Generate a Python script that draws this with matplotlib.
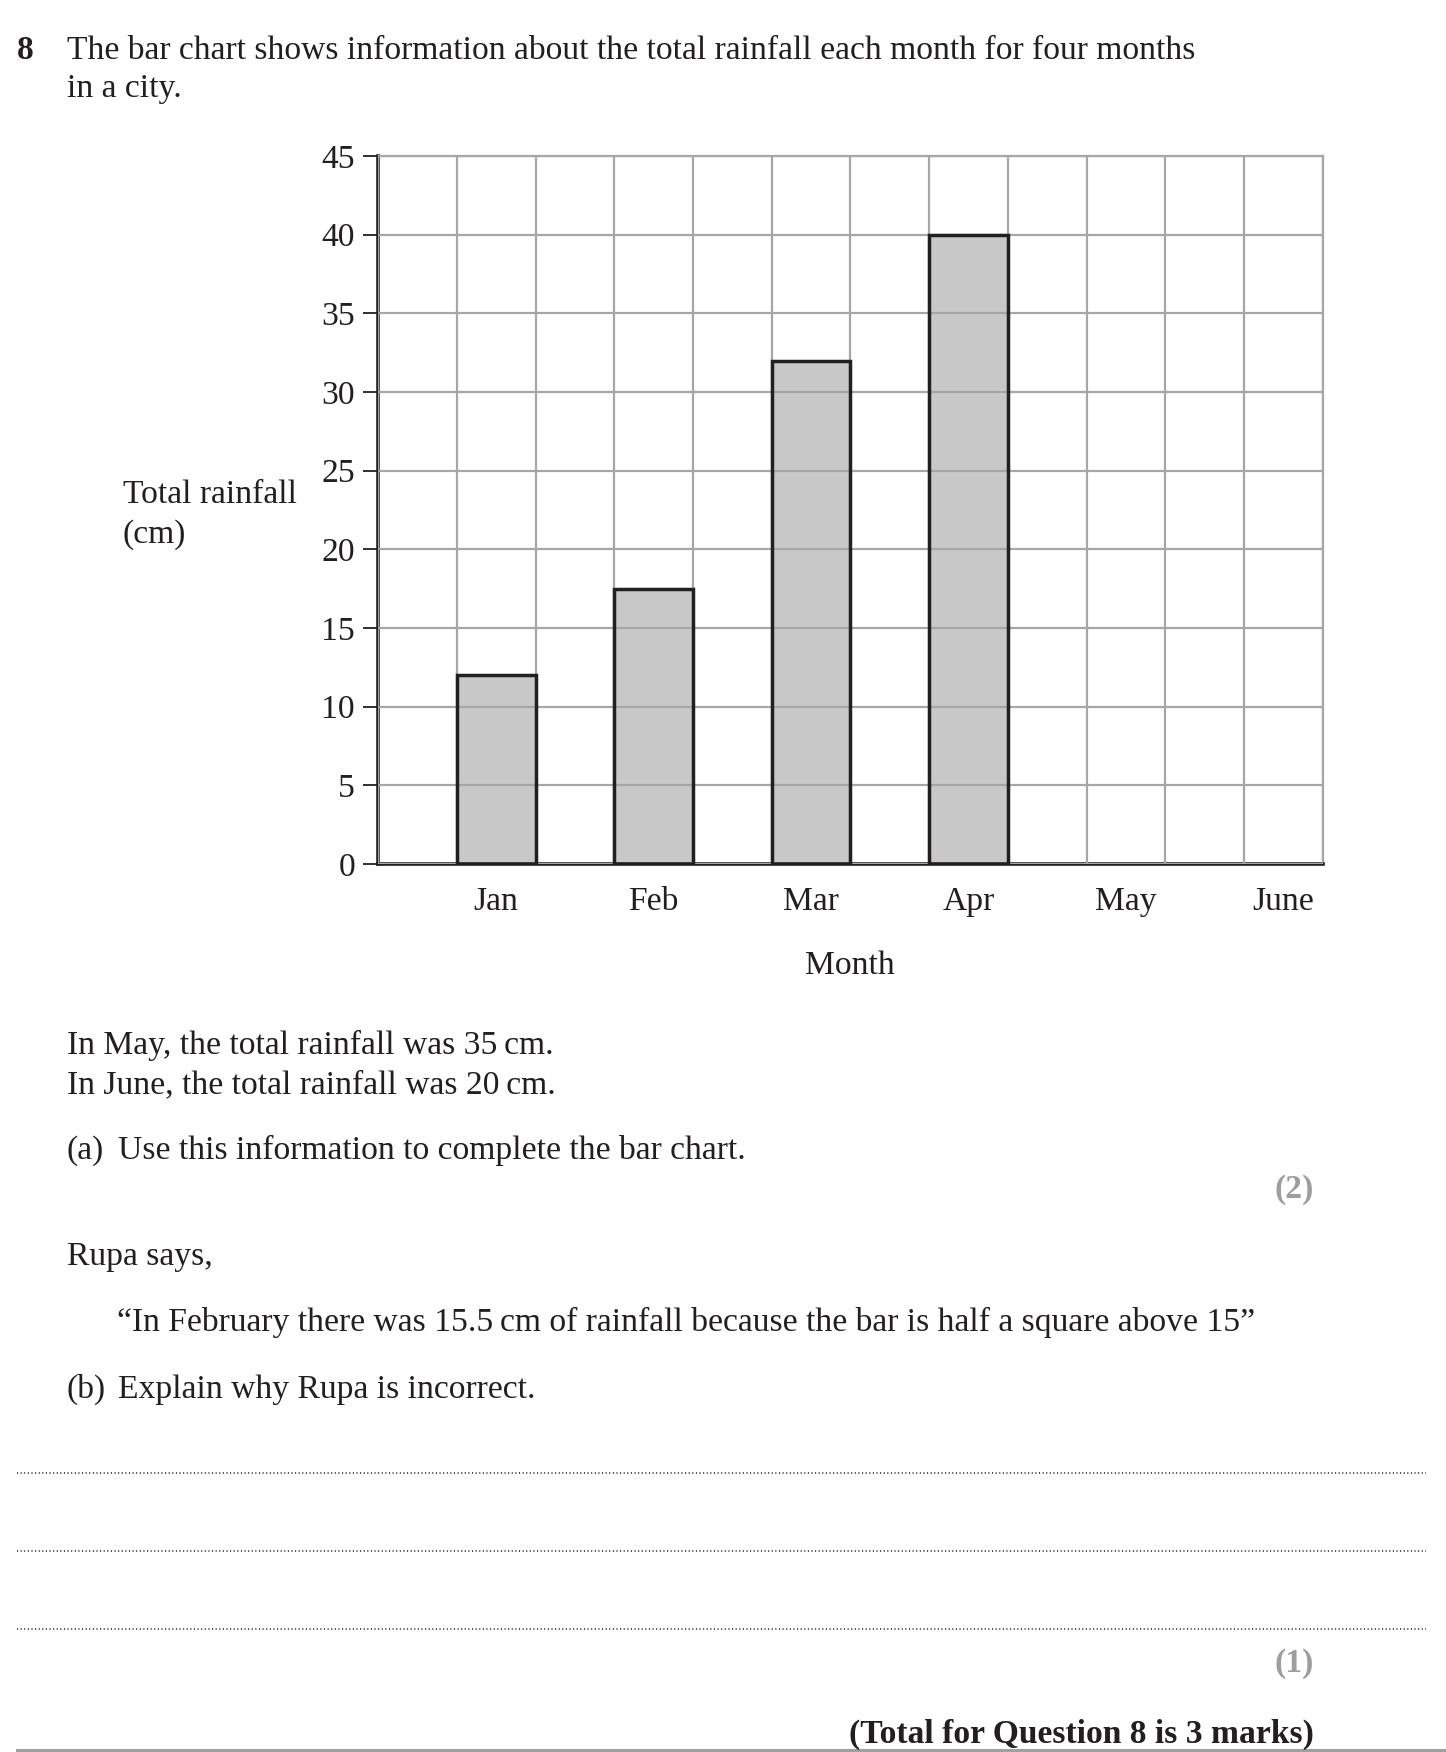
import numpy as np
import matplotlib
matplotlib.use("Agg")
import matplotlib.pyplot as plt
from matplotlib.lines import Line2D


# data (May and June are left blank for the student)
months = ["Jan", "Feb", "Mar", "Apr", "May", "June"]
rainfall = [12, 17.5, 32, 40]
y_ticks = [0, 5, 10, 15, 20, 25, 30, 35, 40, 45]

W, H = 1446, 1752
ink = "#231f20"
grid_col = "#a6a6a6"
bar_col = "#c8c8c8"
mark_col = "#9d9d9d"
fs = 24.2

plt.rcParams['font.family'] = ['Liberation Serif', 'DejaVu Serif']

fig = plt.figure(figsize=(W / 100, H / 100), dpi=100)


def fx(px):
    return px / W


def fy(py):
    return 1 - py / H


# -----------------------------
# bar chart
# -----------------------------

ax = fig.add_axes([fx(378), fy(864), fx(1323) - fx(378), fy(156) - fy(864)])

n_cols = 2 * len(months)
x_pos = np.arange(len(months)) * 2 + 1.5
nb = len(rainfall)

# fill under the grid, outline over it
ax.bar(x_pos[:nb], rainfall, width=1.0, color=bar_col, edgecolor="none", zorder=1)
ax.bar(x_pos[:nb], rainfall, width=1.0, fill=False, edgecolor=ink, linewidth=2.5, zorder=3)

ax.set_axisbelow(False)
ax.set_xlim(0, n_cols)
ax.set_ylim(0, 45)

ax.set_yticks(y_ticks)
ax.set_xticks(x_pos)
ax.set_xticklabels(months)
ax.set_xticks(np.arange(0, n_cols + 1), minor=True)

ax.grid(True, which='major', axis='y', color=grid_col, linewidth=1.6)
ax.grid(True, which='minor', axis='x', color=grid_col, linewidth=1.6)

ax.tick_params(axis='y', direction='out', length=11, width=1.3, color=ink,
               pad=5.5, labelsize=fs, labelcolor=ink)
ax.tick_params(axis='x', which='major', length=0, pad=16, labelsize=fs, labelcolor=ink)
ax.tick_params(axis='x', which='minor', length=0)

for side in ['left', 'bottom']:
    ax.spines[side].set_color(ink)
    ax.spines[side].set_linewidth(2.6)
for side in ['top', 'right']:
    ax.spines[side].set_color(grid_col)
    ax.spines[side].set_linewidth(1.6)

fig.text(fx(123), fy(503), "Total rainfall", fontsize=fs, color=ink, va='baseline')
fig.text(fx(123), fy(543), "(cm)", fontsize=fs, color=ink, va='baseline')
fig.text(fx(850), fy(974), "Month", fontsize=fs, color=ink, va='baseline', ha='center')


# -----------------------------
# question text
# -----------------------------

fig.text(fx(17), fy(59), "8", fontsize=fs, weight='bold', color=ink, va='baseline')
fig.text(fx(67), fy(59), "The bar chart shows information about the total rainfall each month for four months",
         fontsize=fs, color=ink, va='baseline')
fig.text(fx(67), fy(97), "in a city.", fontsize=fs, color=ink, va='baseline')

fig.text(fx(67), fy(1054), "In May, the total rainfall was 35\u2009cm.", fontsize=fs, color=ink, va='baseline')
fig.text(fx(67), fy(1093), "In June, the total rainfall was 20\u2009cm.", fontsize=fs, color=ink, va='baseline')
fig.text(fx(67), fy(1159), "(a)", fontsize=fs, color=ink, va='baseline')
fig.text(fx(118), fy(1159), "Use this information to complete the bar chart.", fontsize=fs, color=ink,
         va='baseline')
fig.text(fx(1314), fy(1198), "(2)", fontsize=fs, weight='bold', color=mark_col, va='baseline', ha='right')

fig.text(fx(67), fy(1265), "Rupa says,", fontsize=fs, color=ink, va='baseline')
fig.text(fx(117), fy(1331),
         "\u201cIn February there was 15.5\u2009cm of rainfall because the bar is half a square above 15\u201d",
         fontsize=fs, color=ink, va='baseline')
fig.text(fx(67), fy(1398), "(b)", fontsize=fs, color=ink, va='baseline')
fig.text(fx(118), fy(1398), "Explain why Rupa is incorrect.", fontsize=fs, color=ink, va='baseline')

# answer lines
for yy in [1473, 1551, 1629]:
    fig.add_artist(Line2D([fx(17), fx(1426)], [fy(yy), fy(yy)], transform=fig.transFigure,
                          color="#3a3a3a", linewidth=1.3, linestyle=(0, (0.6, 1.4))))

fig.text(fx(1314), fy(1672), "(1)", fontsize=fs, weight='bold', color=mark_col, va='baseline', ha='right')
fig.text(fx(1314), fy(1743), "(Total for Question 8 is 3 marks)", fontsize=fs, weight='bold', color=ink,
         va='baseline', ha='right')

fig.add_artist(Line2D([fx(17), fx(W)], [fy(1750), fy(1750)], transform=fig.transFigure,
                      color="#a0a0a0", linewidth=2.2))

fig.savefig("out.png", dpi=100, facecolor="white")
